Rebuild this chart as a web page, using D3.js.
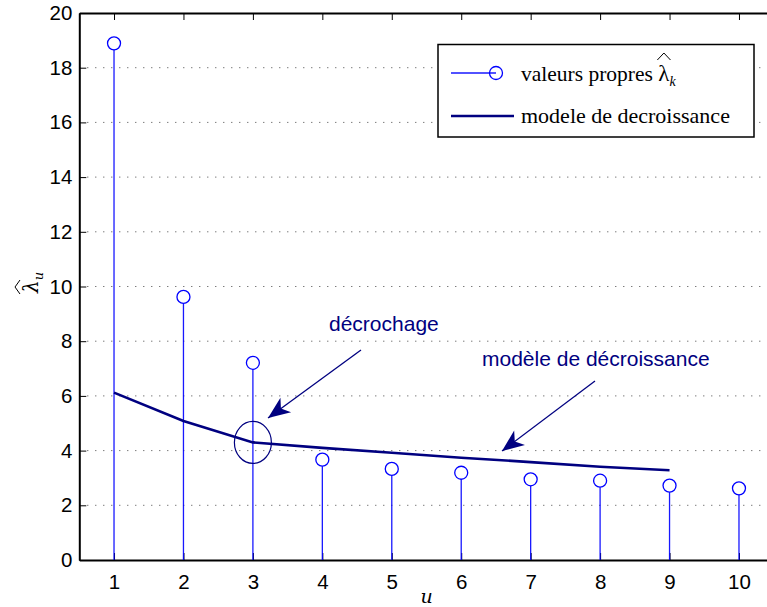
<!DOCTYPE html>
<html><head><meta charset="utf-8">
<script src="https://cdn.jsdelivr.net/npm/d3@7"></script>
<style>body{margin:0;background:#fff}svg{display:block}</style>
</head><body>
<script>
const u = [1,2,3,4,5,6,7,8,9,10];
const eigenValues = [18.89,9.62,7.21,3.67,3.33,3.19,2.95,2.9,2.72,2.62];
const modelU = [1,2,3,4,5,6,7,8,9];
const modelValues = [6.12,5.08,4.3,4.1,3.92,3.74,3.58,3.41,3.28];
const xTicks = [1,2,3,4,5,6,7,8,9,10];
const yTicks = [0,2,4,6,8,10,12,14,16,18,20];
const legendLabels = ["valeurs propres ","modele de decroissance"];
const annotations = ["décrochage","modèle de décroissance"];

const W=767,H=607;
const svg=d3.select("body").append("svg").attr("width",W).attr("height",H);
const x=d3.scaleLinear().domain([0.5,10.5]).range([79.3,773.7]);
const y=d3.scaleLinear().domain([0,20]).range([560,13]);
const navy="#000080", blue="#0000ff";
const tickFont="'Liberation Sans',Arial,sans-serif";
const serif="'DejaVu Serif','Liberation Serif',serif";
const lserif="'Liberation Serif',serif";

// grid
svg.append("g").selectAll("line").data(yTicks.filter(d=>d>0&&d<20)).join("line")
  .attr("x1",x.range()[0]).attr("x2",x.range()[1]).attr("y1",d=>y(d)).attr("y2",d=>y(d))
  .attr("stroke","#444").attr("stroke-width",1).attr("stroke-dasharray","1,7");

// axes
const xa=svg.append("g").attr("transform",`translate(0,${y(0)})`)
  .call(d3.axisBottom(x).tickValues(xTicks).tickSizeInner(-7).tickSizeOuter(0).tickPadding(14));
const xt=svg.append("g").attr("transform",`translate(0,${y(20)})`)
  .call(d3.axisTop(x).tickValues(xTicks).tickSizeInner(-7).tickSizeOuter(0).tickFormat(""));
const ya=svg.append("g").attr("transform",`translate(${x(0.5)},0)`)
  .call(d3.axisLeft(y).tickValues(yTicks).tickSizeInner(-7).tickSizeOuter(0).tickPadding(7));
[xa,xt,ya].forEach(g=>{
  g.selectAll(".domain").attr("stroke","#000").attr("stroke-width",2);
  g.selectAll(".tick line").attr("stroke","#000").attr("stroke-width",1);
  g.selectAll("text").attr("font-family",tickFont).attr("font-size",20.5).attr("fill","#000");
});

// stems
svg.append("g").selectAll("line").data(u).join("line")
  .attr("x1",d=>x(d)).attr("x2",d=>x(d)).attr("y1",y(0)).attr("y2",(d,i)=>y(eigenValues[i])+6.5)
  .attr("stroke",blue).attr("stroke-width",1.3).attr("opacity",0.9);
svg.append("g").selectAll("circle").data(u).join("circle")
  .attr("cx",d=>x(d)).attr("cy",(d,i)=>y(eigenValues[i])).attr("r",6.5)
  .attr("fill","none").attr("stroke",blue).attr("stroke-width",1.3);

// model line
svg.append("path").datum(modelU.map((d,i)=>[d,modelValues[i]]))
  .attr("d",d3.line().x(d=>x(d[0])).y(d=>y(d[1])))
  .attr("fill","none").attr("stroke",navy).attr("stroke-width",2.6);

// ellipse around point 3
svg.append("ellipse").attr("cx",x(3)).attr("cy",y(modelValues[2])).attr("rx",18.5).attr("ry",21)
  .attr("fill","none").attr("stroke",navy).attr("stroke-width",1.2);

// arrows
function arrow(x1,y1,x2,y2){
  svg.append("line").attr("x1",x1).attr("y1",y1).attr("x2",x2).attr("y2",y2)
    .attr("stroke",navy).attr("stroke-width",1.3);
  const a=Math.atan2(y2-y1,x2-x1), L=22, w=9, back=6;
  const bx=x2-L*Math.cos(a), by=y2-L*Math.sin(a);
  const nx=-Math.sin(a), ny=Math.cos(a);
  const ix=x2-(L-back)*Math.cos(a), iy=y2-(L-back)*Math.sin(a);
  svg.append("path").attr("d",`M${x2},${y2}L${bx+nx*w},${by+ny*w}L${ix},${iy}L${bx-nx*w},${by-ny*w}Z`)
    .attr("fill",navy);
}
arrow(361,350,268,418);
arrow(595,381,502,451);
svg.append("text").attr("x",329).attr("y",331).text(annotations[0])
  .attr("font-family",tickFont).attr("font-size",21).attr("fill",navy);
svg.append("text").attr("x",482).attr("y",366).text(annotations[1])
  .attr("font-family",tickFont).attr("font-size",21).attr("fill",navy);

// axis labels
svg.append("text").attr("x",x(5.5)).attr("y",603).attr("text-anchor","middle")
  .attr("font-family",serif).attr("font-style","italic").attr("font-size",19).text("u");
const yl=svg.append("g").attr("transform","translate(38,285) rotate(-90)");
yl.append("text").attr("x",-8).attr("y",0).attr("font-family",serif).attr("font-style","italic").attr("font-size",20)
  .text("λ").append("tspan").attr("dy",5).attr("font-size",13).text("u");
yl.append("path").attr("d","M-9,-18 L-2,-23 L5,-18").attr("fill","none").attr("stroke","#000").attr("stroke-width",1);

// legend
const lg=svg.append("g");
lg.append("rect").attr("x",438).attr("y",44.5).attr("width",316).attr("height",92.5)
  .attr("fill","#fff").attr("stroke","#000").attr("stroke-width",1.5);
lg.append("line").attr("x1",451).attr("x2",496).attr("y1",73).attr("y2",73).attr("stroke",blue).attr("stroke-width",1.3).attr("opacity",0.9);
lg.append("circle").attr("cx",496).attr("cy",73).attr("r",6.5).attr("fill","none").attr("stroke",blue).attr("stroke-width",1.3);
lg.append("line").attr("x1",451).attr("x2",514).attr("y1",116).attr("y2",116).attr("stroke",navy).attr("stroke-width",2.6);
const t1=lg.append("text").attr("x",521).attr("y",81).attr("font-family",lserif).attr("font-size",21.5).text(legendLabels[0]);
const lam=t1.append("tspan").attr("font-family",lserif).attr("font-size",23).text("λ");
lam.append("tspan").attr("dy",5).attr("font-style","italic").attr("font-size",14).text("k");
lg.append("text").attr("x",521).attr("y",123).attr("font-family",lserif).attr("font-size",22).text(legendLabels[1]);
// hat over legend lambda
const n=t1.node();
const s=n.getStartPositionOfChar(legendLabels[0].length).x, e=n.getEndPositionOfChar(legendLabels[0].length).x;
lg.append("path").attr("d",`M${s-1},60 L${(s+e)/2},53 L${e+1},60`).attr("fill","none").attr("stroke","#000").attr("stroke-width",1);
</script>
</body></html>
